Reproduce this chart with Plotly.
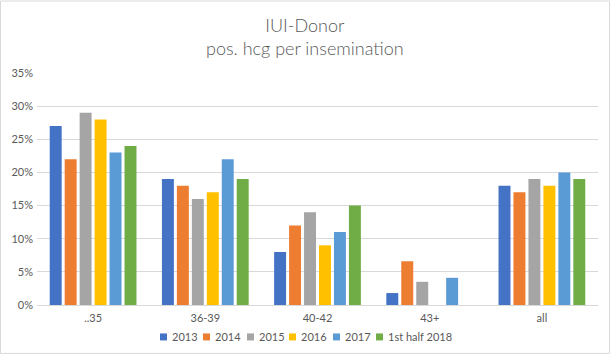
import plotly.graph_objects as go

categories = ["..35", "36-39", "40-42", "43+", "all"]
series_names = ["2013", "2014", "2015", "2016", "2017", "1st half 2018"]
values = {
    "2013": [0.27, 0.19, 0.08, 0.018, 0.18],
    "2014": [0.22, 0.18, 0.12, 0.066, 0.17],
    "2015": [0.29, 0.16, 0.14, 0.035, 0.19],
    "2016": [0.28, 0.17, 0.09, None, 0.18],
    "2017": [0.23, 0.22, 0.11, 0.041, 0.20],
    "1st half 2018": [0.24, 0.19, 0.15, None, 0.19],
}
colors = ["#4472C4", "#ED7D31", "#A5A5A5", "#FFC000", "#5B9BD5", "#70AD47"]
y_ticks = [0, 0.05, 0.10, 0.15, 0.20, 0.25, 0.30, 0.35]

W, H = 610, 354
ml, mr, mt, mb = 37, 12, 72.6, 49
pw = W - ml - mr
ph = H - mt - mb

def px_x(x):
    return (x - ml) / pw

def px_y(y):
    return (H - mb - y) / ph

font_family = "Lato, Carlito, Calibri, sans-serif"
txt_color = "#595959"

fig = go.Figure()
for name, c in zip(series_names, colors):
    fig.add_trace(go.Bar(x=categories, y=values[name], name=name, marker_color=c,
                         marker_line_width=0, showlegend=False))

# custom compact legend (Excel style)
legend_sq_x = [160, 203, 247, 289, 333, 376]
legend_y = 337
shapes = []
annotations = []
for name, c, sx in zip(series_names, colors, legend_sq_x):
    shapes.append(dict(type="rect", xref="paper", yref="paper",
                       x0=px_x(sx), x1=px_x(sx + 7),
                       y0=px_y(legend_y + 3.5), y1=px_y(legend_y - 3.5),
                       line=dict(width=0), fillcolor=c))
    annotations.append(dict(text=name, xref="paper", yref="paper",
                            x=px_x(sx + 10), y=px_y(legend_y), xanchor="left",
                            yanchor="middle", showarrow=False,
                            font=dict(size=11, color=txt_color, family=font_family)))

# chart title
title_text = "IUI-Donor<br>pos. hcg per insemination"
annotations.append(dict(text=title_text, xref="paper", yref="paper", x=px_x(W / 2),
                        y=px_y(36), xanchor="center", yanchor="middle",
                        showarrow=False, align="center",
                        font=dict(size=18, color=txt_color, family=font_family, weight=300)))

shapes.append(dict(type="rect", xref="paper", yref="paper",
                   x0=-(ml - 0.5) / pw, x1=1 + (mr - 0.5) / pw,
                   y0=-(mb - 0.5) / ph, y1=1 + (mt - 0.5) / ph,
                   line=dict(color="#d9d9d9", width=1), fillcolor="rgba(0,0,0,0)",
                   layer="below"))

fig.update_layout(
    width=W, height=H,
    margin=dict(l=ml, r=mr, t=mt, b=mb),
    paper_bgcolor="white", plot_bgcolor="white",
    barmode="group", bargap=0.2, bargroupgap=0.2,
    font=dict(family=font_family, color=txt_color, size=11),
    xaxis=dict(showgrid=False, showline=True, linecolor="#d9d9d9", linewidth=1,
               ticks="", ticklabelstandoff=3, tickfont=dict(size=11, color=txt_color)),
    yaxis=dict(range=[0, 0.35], tickvals=y_ticks, tickformat=".0%",
               showgrid=True, gridcolor="#d9d9d9", gridwidth=1,
               zeroline=False, showline=False, ticks="", ticklabelstandoff=3,
               tickfont=dict(size=11, color=txt_color)),
    showlegend=False,
    shapes=shapes,
    annotations=annotations,
)
fig.write_html("out.html")
